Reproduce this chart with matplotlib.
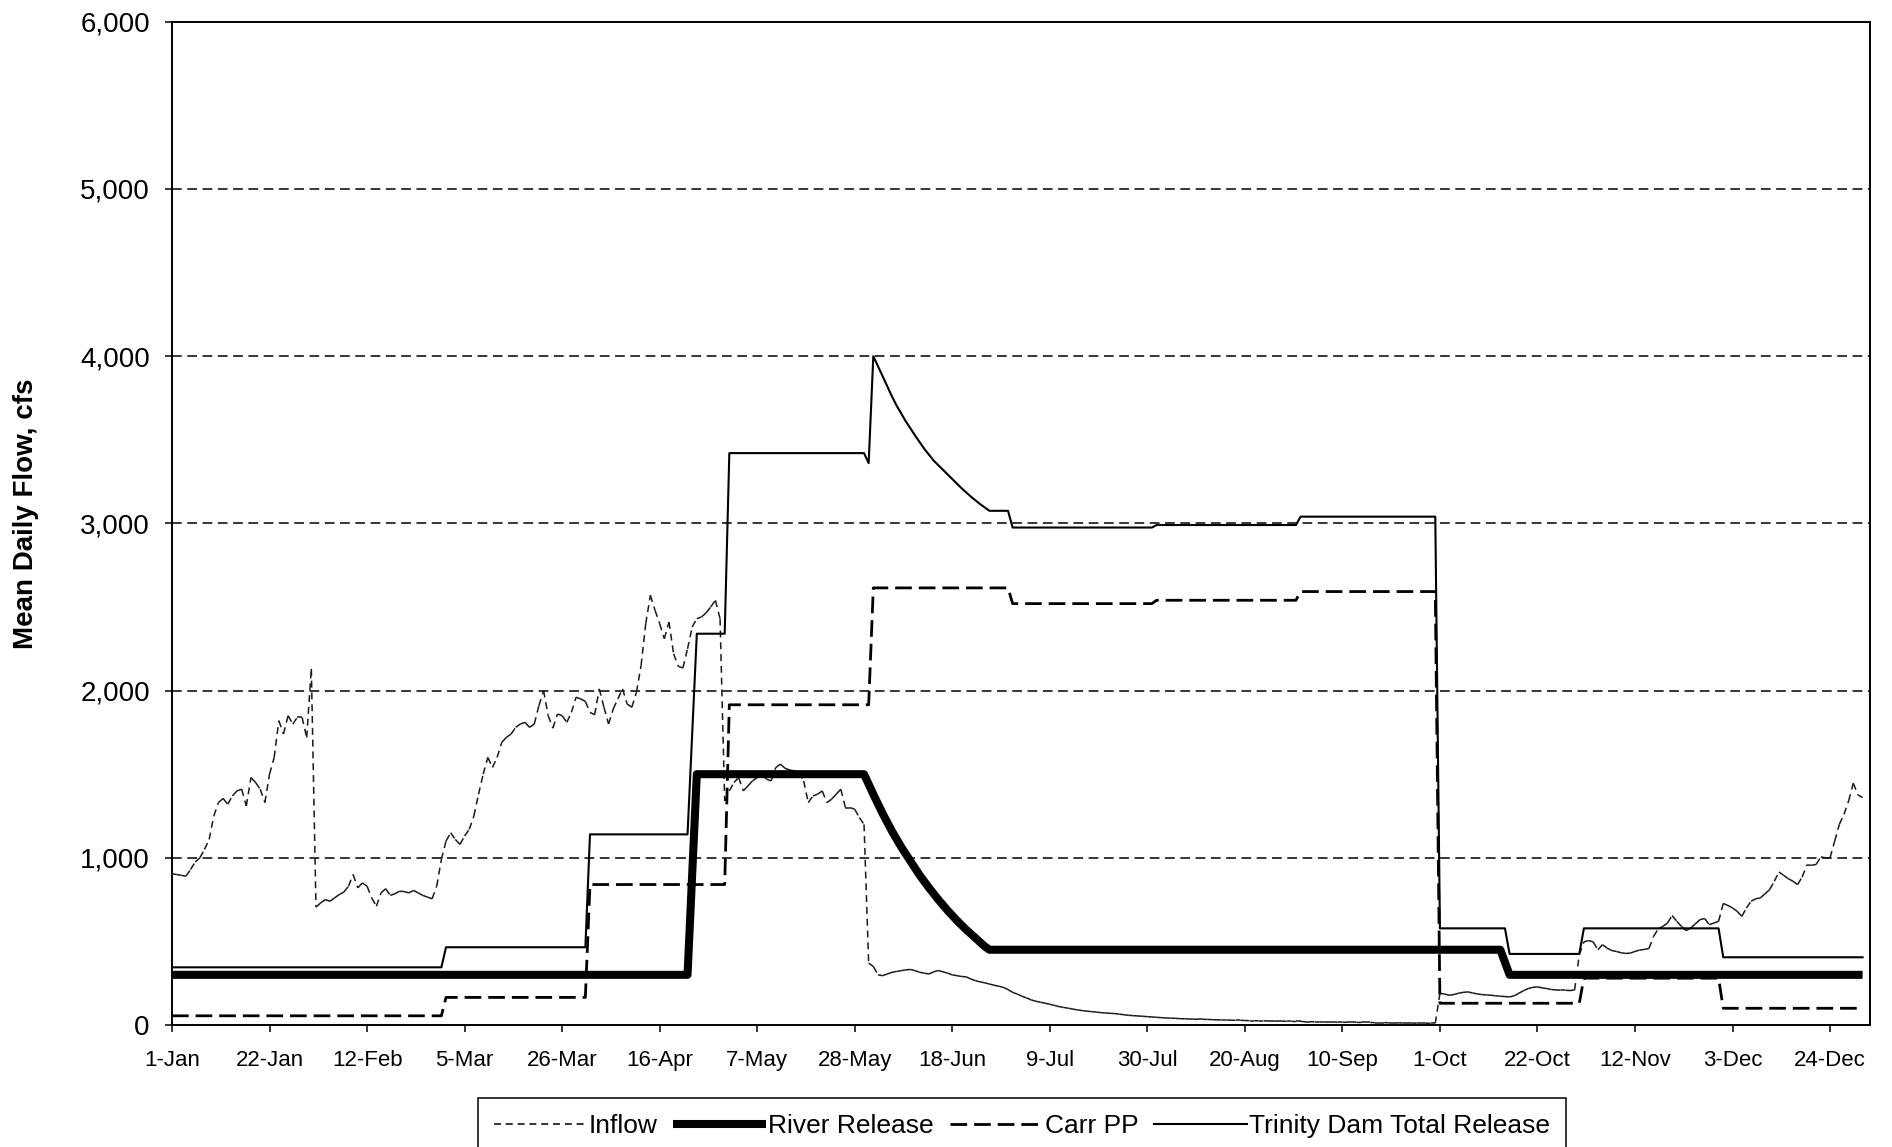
import numpy as np
import matplotlib
matplotlib.use("Agg")
import matplotlib.pyplot as plt
from matplotlib.collections import LineCollection
from matplotlib.lines import Line2D
from matplotlib import font_manager
from matplotlib.ticker import StrMethodFormatter

plt.rcParams["lines.scale_dashes"] = False

# ---- x axis (day of year, 0 = 1-Jan) ----
tick_days = [0, 21, 42, 63, 84, 105, 126, 147, 168, 189, 210, 231, 252, 273, 294, 315, 336, 357]
tick_labels = ["1-Jan", "22-Jan", "12-Feb", "5-Mar", "26-Mar", "16-Apr", "7-May", "28-May",
               "18-Jun", "9-Jul", "30-Jul", "20-Aug", "10-Sep", "1-Oct", "22-Oct", "12-Nov",
               "3-Dec", "24-Dec"]
y_ticks = [0, 1000, 2000, 3000, 4000, 5000, 6000]

# ---- daily inflow, cfs (1-Jan .. 31-Dec) ----
inflow_cfs = [
    905, 900, 895, 890, 930, 975, 1000, 1050, 1110, 1250, 1330, 1355, 1320, 1370, 1400, 1410,
    1310, 1480, 1450, 1410, 1330, 1500, 1600, 1820, 1740, 1850, 1800, 1840, 1840, 1720, 2130,
    705, 730, 750, 740, 760, 780, 795, 830, 900, 820, 850, 830, 760, 710, 790, 815, 775, 785,
    800, 798, 790, 805, 790, 775, 765, 755, 830, 990, 1100, 1150,
    1110, 1080, 1130, 1170, 1250, 1380, 1500, 1600, 1540, 1600, 1690, 1720, 1740, 1780, 1800,
    1810, 1780, 1800, 1910, 2000, 1850, 1775, 1860, 1850,
    1810, 1870, 1960, 1950, 1935, 1870, 1855, 2010, 1900, 1800, 1890, 1950, 2010, 1920, 1900,
    1990, 2150, 2400, 2570, 2480, 2400, 2310, 2410, 2220, 2145, 2135, 2250, 2380, 2430, 2440,
    2465, 2500, 2540, 2430,
    1340, 1400, 1450, 1480, 1400, 1430, 1460, 1480, 1500, 1470, 1460, 1540, 1560, 1535, 1525,
    1520, 1510, 1460, 1330, 1370, 1380, 1400, 1330, 1350, 1380, 1410, 1300, 1300, 1290, 1240, 1200,
    370, 350, 300, 295, 305, 315, 320, 325, 330, 332, 325, 315, 310, 305, 318, 326, 318, 310,
    300, 295, 290, 288, 275, 265, 258, 252, 245, 238, 232, 225, 212, 195, 185, 172, 162, 150,
    142, 136, 130, 124, 117, 110, 105, 100, 95, 90, 86, 83, 80, 77, 74, 72, 70, 68, 65, 61, 58,
    56, 54, 52, 50,
    48, 46, 44, 42, 41, 40, 38, 37, 36, 35, 34, 34, 33, 32, 31, 30, 30, 29, 28, 28, 27, 26, 26,
    25, 25, 24, 24, 23, 23, 22, 22, 21, 21, 20, 20, 19, 19, 18, 18, 18, 17, 17, 16, 16, 16, 15,
    15, 15, 14, 14, 14, 13, 13, 13, 12, 12, 12, 11, 11, 11, 10, 10,
    190, 185, 178, 182, 190, 195, 198, 192, 186, 182, 180, 178, 175, 172, 170, 168, 175, 190,
    205, 218, 225, 228, 222, 218, 212, 210, 208, 208, 206, 210,
    420, 497, 505, 497, 450, 480, 460, 445, 440, 432, 428, 430, 440, 448, 452, 457, 530, 575,
    590, 610, 655, 620, 590, 565, 580, 605, 630, 637, 600, 610, 620, 727, 715, 700, 680, 650,
    700, 740, 755, 760, 785, 810, 860, 915, 895, 875, 860, 840, 885, 957, 955, 960, 1005, 1000,
    1000, 1100, 1200, 1260, 1340, 1446, 1376, 1360,
]
inflow_days = list(range(len(inflow_cfs)))

# ---- river release (scheduled), vertices ----
river_days = [0, 111, 113, 149, 151, 153, 155, 157, 159, 161, 163, 165, 167, 169, 171, 173, 175,
              176, 286, 288, 364]
river_cfs = [300, 300, 1500, 1500, 1380, 1265, 1160, 1065, 980, 895, 820, 750, 685, 625, 570,
             520, 470, 450, 450, 300, 300]

# ---- Carr powerplant diversion, vertices ----
carr_days = [0, 58, 59, 89, 90, 119, 120, 150, 151, 180, 181, 211, 212, 242, 243, 272, 273,
             303, 304, 333, 334, 364]
carr_cfs = [55, 55, 165, 165, 840, 840, 1915, 1915, 2614, 2614, 2520, 2520, 2540, 2540, 2592,
            2592, 130, 130, 280, 280, 100, 100]

# ---- Trinity Dam total release, vertices ----
total_days = [0, 58, 59, 89, 90, 111, 113, 119, 120, 149, 150, 151, 152, 153, 154, 155, 156, 158,
              160, 162, 164, 166, 168, 170, 172, 174, 176, 180, 181, 211, 212, 242, 243, 272, 273,
              287, 288, 303, 304, 333, 334, 364]
total_cfs = [345, 345, 465, 465, 1140, 1140, 2340, 2340, 3420, 3420, 3360, 4000, 3940, 3880, 3820,
             3760, 3705, 3610, 3525, 3445, 3375, 3320, 3265, 3210, 3160, 3115, 3075, 3075, 2975,
             2975, 2990, 2990, 3040, 3040, 578, 578, 425, 425, 578, 578, 405, 405]

# ---- fonts ----
available = {f.name for f in font_manager.fontManager.ttflist}
if "Liberation Sans Narrow" in available:
    narrow_family = ["Liberation Sans Narrow", "Liberation Sans", "DejaVu Sans"]
    xtick_size, legend_size = 19.5, 23
else:
    narrow_family = ["Liberation Sans", "DejaVu Sans"]
    xtick_size, legend_size = 16, 19
regular_family = ["Liberation Sans", "DejaVu Sans"]

W, H = 1892, 1147
fig = plt.figure(figsize=(W / 100, H / 100), dpi=100)
ax = fig.add_axes([172 / W, 1 - 1025 / H, (1870 - 172) / W, (1025 - 21.7) / H])

inflow_style = (0, (5, 3.5))
carr_style = (0, (12, 5))

# inflow: dash pattern restarts on every daily segment
pts = np.column_stack([inflow_days, inflow_cfs]).astype(float)
segs = np.stack([pts[:-1], pts[1:]], axis=1)
ax.add_collection(LineCollection(segs, colors="#1a1a1a", linewidths=1.1,
                                 linestyles=[inflow_style], zorder=3))

ax.plot(river_days, river_cfs, color="black", lw=5.8, solid_capstyle="butt", zorder=4)
ax.plot(carr_days, carr_cfs, color="black", lw=2.0, linestyle=carr_style, zorder=5)
ax.plot(total_days, total_cfs, color="black", lw=1.5, zorder=6)

ax.set_xlim(0, 365.6)
ax.set_ylim(0, 6000)

for v in y_ticks[1:-1]:
    ax.axhline(v, color="black", lw=1.1, linestyle=(0, (7, 4)), zorder=1)

ax.set_xticks(tick_days)
ax.set_xticklabels(tick_labels, fontfamily=narrow_family, fontsize=xtick_size)
ax.set_yticks(y_ticks)
ax.yaxis.set_major_formatter(StrMethodFormatter("{x:,.0f}"))
for lab in ax.get_yticklabels():
    lab.set_fontfamily(regular_family)
    lab.set_fontsize(20)
ax.tick_params(axis="x", direction="out", length=5, width=1.1, pad=13, colors="black")
ax.tick_params(axis="y", direction="out", length=5, width=1.1, pad=11, colors="black")

for sp in ax.spines.values():
    sp.set_color("black")
    sp.set_linewidth(1.4)

fig.text(26 / W, 1 - 514 / H, "Mean Daily Flow, cfs", rotation=90, ha="center", va="center",
         fontsize=20, fontweight="bold", fontfamily=regular_family)

handles = [
    Line2D([], [], color="black", lw=1.1, linestyle=inflow_style),
    Line2D([], [], color="black", lw=5.8, solid_capstyle="butt"),
    Line2D([], [], color="black", lw=2.0, linestyle=carr_style),
    Line2D([], [], color="black", lw=1.5),
]
labels = ["Inflow", "River Release", "Carr PP", "Trinity Dam Total Release"]
leg = fig.legend(handles, labels, loc="upper center", bbox_to_anchor=(1022 / W, 1 - 1098 / H),
                 bbox_transform=fig.transFigure, ncol=4, frameon=True, fancybox=False,
                 edgecolor="black", framealpha=1, handlelength=3.5, handletextpad=0.1,
                 columnspacing=0.6, borderpad=0.6, borderaxespad=0,
                 prop={"family": narrow_family, "size": legend_size})
leg.get_frame().set_linewidth(1.1)

fig.savefig("out.png", dpi=100)
